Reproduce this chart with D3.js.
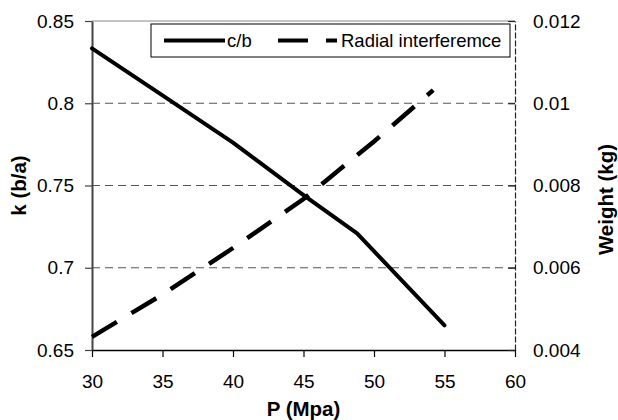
<!DOCTYPE html>
<html>
<head>
<meta charset="utf-8">
<script src="https://cdn.jsdelivr.net/npm/d3@7/dist/d3.min.js"></script>
<style>
  body { margin: 0; background: #fff; }
  svg { font-family: "Liberation Sans", Arial, sans-serif; }
</style>
</head>
<body>
<div id="chart"></div>
<script>
// c/b ratio (left axis)
var cbPressure = [30, 35, 40, 45, 48.8, 55];
var cbValues = [0.8334, 0.8048, 0.7761, 0.7442, 0.7209, 0.665];

// radial interference weight (right axis)
var radialPressure = [30, 35, 40, 45, 50, 54.2];
var radialValues = [0.00432, 0.00535, 0.00648, 0.00767, 0.00907, 0.01032];

var xTicks = [30, 35, 40, 45, 50, 55, 60];
var leftTicks = [0.65, 0.7, 0.75, 0.8, 0.85];
var rightTicks = [0.004, 0.006, 0.008, 0.01, 0.012];

var width = 618, height = 420;
var margin = { top: 21, right: 103, bottom: 70, left: 92 };
var w = width - margin.left - margin.right,
    h = height - margin.top - margin.bottom;

var svg = d3.select('#chart').append('svg')
    .attr('width', width)
    .attr('height', height);

var g = svg.append('g')
    .attr('transform', 'translate(' + margin.left + ',' + margin.top + ')');

var x = d3.scaleLinear().domain([30, 60]).range([0, w]);
var yLeft = d3.scaleLinear().domain([0.65, 0.85]).range([h, 0]);
var yRight = d3.scaleLinear().domain([0.004, 0.012]).range([h, 0]);

// dashed grid lines
g.selectAll('.grid')
    .data(leftTicks.slice(1, -1))
    .enter()
    .append('line')
    .attr('x1', 0)
    .attr('x2', w)
    .attr('y1', function (d) { return yLeft(d); })
    .attr('y2', function (d) { return yLeft(d); })
    .attr('stroke', '#555')
    .attr('stroke-width', 1)
    .attr('stroke-dasharray', '8,5');

// top border
g.append('line')
    .attr('x1', 0).attr('x2', w)
    .attr('y1', 0).attr('y2', 0)
    .attr('stroke', '#888')
    .attr('stroke-width', 1);

// axes
var xAxis = g.append('g')
    .attr('transform', 'translate(0,' + h + ')')
    .call(d3.axisBottom(x).tickValues(xTicks).tickSize(7).tickPadding(18).tickSizeOuter(0));

var leftAxis = g.append('g')
    .call(d3.axisLeft(yLeft).tickValues(leftTicks).tickFormat(function (d) { return String(d); })
        .tickSize(7).tickPadding(11).tickSizeOuter(0));

var rightAxis = g.append('g')
    .attr('transform', 'translate(' + w + ',0)')
    .call(d3.axisRight(yRight).tickValues(rightTicks).tickFormat(function (d) { return String(+d.toFixed(3)); })
        .tickSize(-7).tickPadding(18).tickSizeOuter(0));

[xAxis, leftAxis, rightAxis].forEach(function (a) {
    a.selectAll('text').attr('font-size', 19).attr('fill', '#000').attr('font-family', null);
    a.attr('font-family', null);
});
xAxis.select('.domain').attr('stroke', '#000').attr('stroke-width', 1.5);
xAxis.selectAll('.tick line').attr('stroke', '#000').attr('stroke-width', 1.2);
leftAxis.select('.domain').attr('stroke', '#444').attr('stroke-width', 2);
leftAxis.selectAll('.tick line').attr('stroke', '#444').attr('stroke-width', 1.2);
rightAxis.select('.domain').attr('stroke', '#222').attr('stroke-width', 1.2).attr('stroke-dasharray', '6,2');
rightAxis.selectAll('.tick line').attr('stroke', '#222').attr('stroke-width', 1.2);

// lines
var cbLine = d3.line()
    .x(function (d) { return x(d[0]); })
    .y(function (d) { return yLeft(d[1]); });

var radialLine = d3.line()
    .x(function (d) { return x(d[0]); })
    .y(function (d) { return yRight(d[1]); });

g.append('path')
    .datum(d3.zip(radialPressure, radialValues))
    .attr('d', radialLine)
    .attr('fill', 'none')
    .attr('stroke', '#000')
    .attr('stroke-width', 4.5)
    .attr('stroke-dasharray', '29,17');

g.append('path')
    .datum(d3.zip(cbPressure, cbValues))
    .attr('d', cbLine)
    .attr('fill', 'none')
    .attr('stroke', '#000')
    .attr('stroke-width', 4)
    .attr('stroke-linejoin', 'round')
    .attr('stroke-linecap', 'round');

// legend
var legend = svg.append('g');
legend.append('rect')
    .attr('x', 151).attr('y', 24)
    .attr('width', 359).attr('height', 33)
    .attr('fill', '#fff')
    .attr('stroke', '#000')
    .attr('stroke-width', 1);

legend.append('line')
    .attr('x1', 164).attr('x2', 225)
    .attr('y1', 40.5).attr('y2', 40.5)
    .attr('stroke', '#000').attr('stroke-width', 4);
legend.append('text')
    .attr('x', 227).attr('y', 47)
    .attr('font-size', 18.5)
    .text('c/b');

legend.append('line')
    .attr('x1', 278).attr('x2', 337)
    .attr('y1', 40.5).attr('y2', 40.5)
    .attr('stroke', '#000').attr('stroke-width', 4)
    .attr('stroke-dasharray', '30,18');
legend.append('text')
    .attr('x', 341).attr('y', 47)
    .attr('font-size', 18.5)
    .text('Radial interferemce');

// axis titles
svg.append('text')
    .attr('x', margin.left + w / 2)
    .attr('y', 416)
    .attr('text-anchor', 'middle')
    .attr('font-size', 20.5)
    .attr('font-weight', 'bold')
    .text('P (Mpa)');

svg.append('text')
    .attr('transform', 'translate(26,' + (margin.top + h / 2) + ') rotate(-90)')
    .attr('text-anchor', 'middle')
    .attr('font-size', 20.5)
    .attr('font-weight', 'bold')
    .text('k (b/a)');

svg.append('text')
    .attr('transform', 'translate(613,' + (margin.top + h / 2 + 14) + ') rotate(-90)')
    .attr('text-anchor', 'middle')
    .attr('font-size', 20.5)
    .attr('font-weight', 'bold')
    .text('Weight (kg)');
</script>
</body>
</html>
